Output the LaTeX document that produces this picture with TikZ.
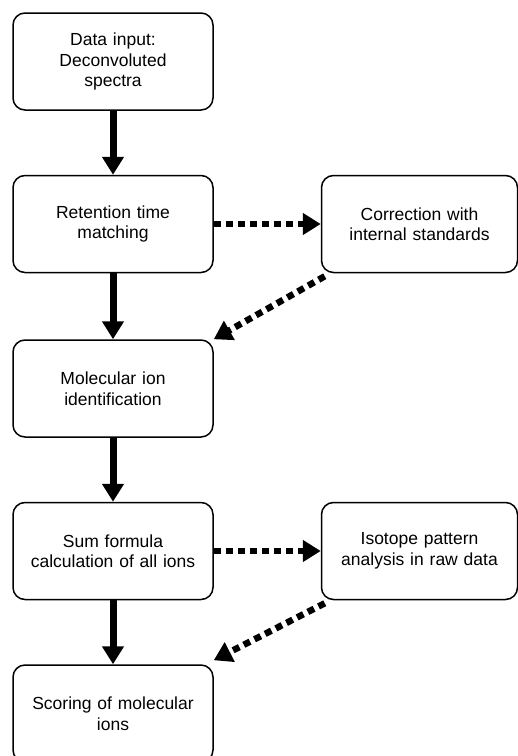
\documentclass[tikz,border=0pt]{standalone}
\usepackage{fontspec}
\setmainfont{Liberation Sans}
\usetikzlibrary{arrows.meta}

\begin{document}
\begin{tikzpicture}[x=1pt,y=-1pt,
  stepbox/.style={draw=black,line width=1.5pt,rounded corners=12pt,fill=white,
    align=center,inner sep=2pt,font=\fontsize{17.5}{20.5}\selectfont},
  leftbox/.style={stepbox,minimum width=200pt,minimum height=97pt,text width=194pt},
  rightbox/.style={stepbox,minimum width=196pt,minimum height=97pt,text width=190pt},
  mainflow/.style={line width=7pt,-{Triangle[width=21pt,length=18pt]}},
  sideflow/.style={line width=6.5pt,dash pattern=on 7pt off 5pt,-{Triangle[width=21pt,length=18pt]}}]
  \useasboundingbox (0,0) rectangle (518,756);

  % Left column
  \node[leftbox] (input) at (113,61.5) {Data input:\\Deconvoluted\\spectra};
  \node[leftbox] (rtmatch) at (113,224) {Retention time\\matching};
  \node[leftbox] (molion) at (113,388.5) {Molecular ion\\identification};
  \node[leftbox] (sumform) at (113,551) {Sum formula\\calculation of all ions};
  \node[leftbox] (scoring) at (113,713.5) {Scoring of molecular\\ions};

  % Right column
  \node[rightbox] (correct) at (419.5,224) {Correction with\\internal standards};
  \node[rightbox] (isotope) at (419.5,551) {Isotope pattern\\analysis in raw data};

  % Main flow
  \draw[mainflow] (input) -- (rtmatch);
  \draw[mainflow] (rtmatch) -- (molion);
  \draw[mainflow] (molion) -- (sumform);
  \draw[mainflow] (sumform) -- (scoring);

  % Side loops
  \draw[sideflow] (rtmatch.east) -- (correct.west);
  \draw[sideflow] ([xshift=4pt,yshift=-3pt]correct.south west) -- (molion.north east);
  \draw[sideflow] (sumform.east) -- (isotope.west);
  \draw[sideflow] ([xshift=4pt,yshift=-3pt]isotope.south west) -- ([yshift=4pt]scoring.north east);
\end{tikzpicture}
\end{document}
